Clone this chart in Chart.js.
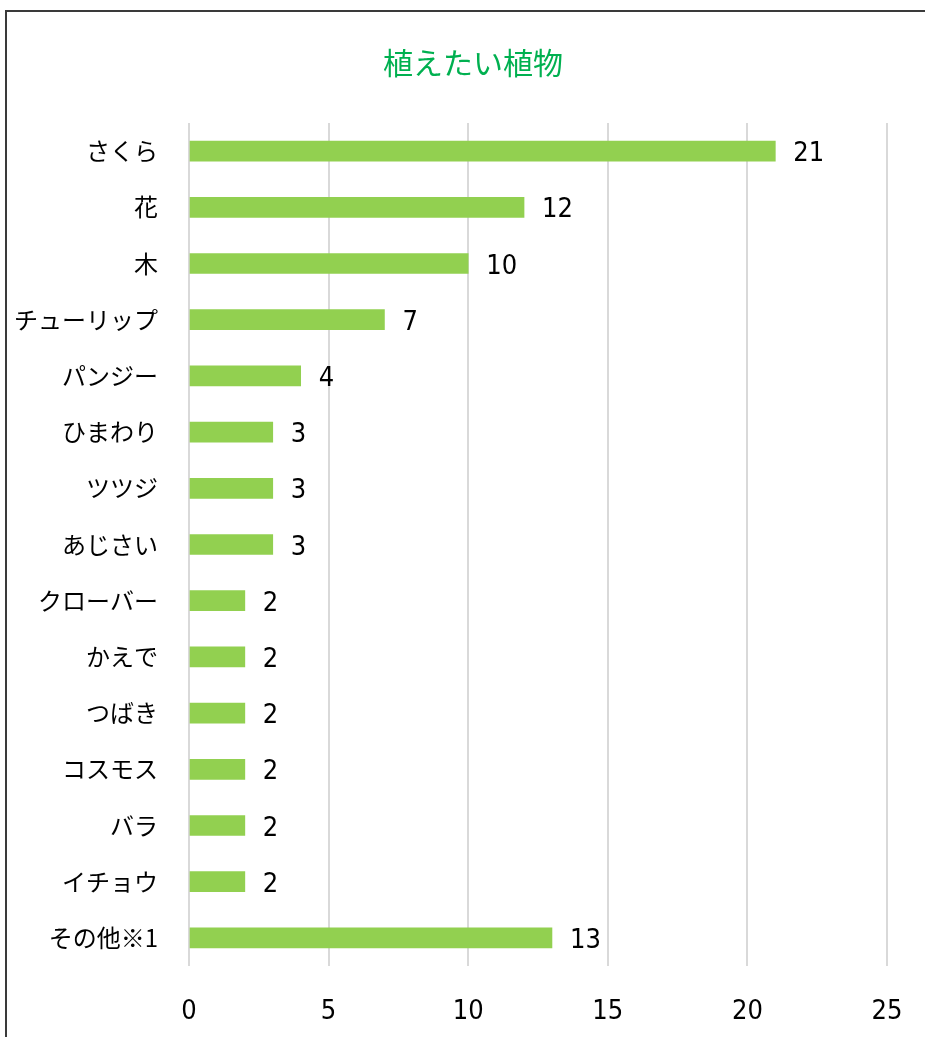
<!DOCTYPE html>
<html><head><meta charset="utf-8">
<script src="https://cdn.jsdelivr.net/npm/chart.js@4/dist/chart.umd.min.js"></script>
<style>
html,body{margin:0;padding:0;background:#fff;overflow:hidden;}
#frame{position:absolute;left:5px;top:10px;width:1000px;height:1100px;border:2px solid #3a3a3a;box-sizing:border-box;}
#wrap{position:absolute;left:0;top:0;width:925px;height:1037px;}
</style></head>
<body>
<div id="frame"></div>
<div id="wrap"><canvas id="c" width="925" height="1037"></canvas></div>
<script>
const chartTitle = "植えたい植物";
const categories = ["さくら","花","木","チューリップ","パンジー","ひまわり","ツツジ","あじさい","クローバー","かえで","つばき","コスモス","バラ","イチョウ","その他※1"];
const values = [21,12,10,7,4,3,3,3,2,2,2,2,2,2,13];
const xTicks = [0,5,10,15,20,25];

const labelFont = '"Noto Sans CJK JP","Noto Sans",sans-serif';
const numFont = '"DejaVu Sans Condensed","DejaVu Sans",Verdana,sans-serif';

const titleAndLabels = {
  id:'titleAndLabels',
  afterDraw(chart){
    const ctx = chart.ctx;
    ctx.save();
    ctx.font = '30px ' + labelFont;
    ctx.fillStyle = '#00B050';
    ctx.textAlign = 'center';
    ctx.textBaseline = 'middle';
    ctx.fillText(chartTitle, 473, 63);
    ctx.restore();
  },
  afterDatasetsDraw(chart){
    const ctx = chart.ctx;
    const meta = chart.getDatasetMeta(0);
    ctx.save();
    ctx.font = '27px ' + numFont;
    ctx.fillStyle = '#000';
    ctx.textAlign = 'left';
    ctx.textBaseline = 'middle';
    meta.data.forEach((bar,i)=>{
      ctx.fillText(String(values[i]), bar.x + 18, bar.y + 3);
    });
    ctx.restore();
  }
};

new Chart(document.getElementById('c'),{
  type:'bar',
  data:{labels:categories,datasets:[{data:values,backgroundColor:'#92D050',borderWidth:0,barThickness:20}]},
  options:{
    indexAxis:'y',
    responsive:false,
    animation:false,
    layout:{padding:{left:0,right:38,top:123,bottom:0}},
    plugins:{
      legend:{display:false},
      tooltip:{enabled:false},
      title:{display:false}
    },
    scales:{
      x:{
        min:0,max:25,
        afterBuildTicks(s){ s.ticks = xTicks.map(v=>({value:v})); },
        afterFit(s){ s.height = 71; s.paddingLeft = 0; s.paddingRight = 0; },
        grid:{color:'#d9d9d9',lineWidth:2,drawTicks:false},
        border:{display:false},
        ticks:{font:{family:numFont,size:27},color:'#000',padding:30}
      },
      y:{
        afterFit(s){ s.width = 189; s.paddingTop = 0; s.paddingBottom = 0; },
        grid:{display:false,drawTicks:false},
        border:{display:false},
        ticks:{font:{family:labelFont,size:24},color:'#000',padding:31,autoSkip:false}
      }
    }
  },
  plugins:[titleAndLabels]
});
</script>
</body></html>
